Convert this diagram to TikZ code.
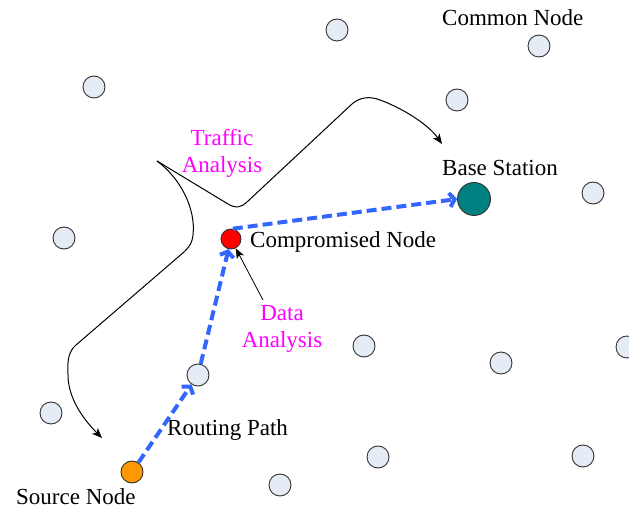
\documentclass[tikz,border=0pt]{standalone}
\usepackage{fontspec}
\setmainfont{Liberation Serif}
\usetikzlibrary{arrows.meta}
\definecolor{nodefill}{RGB}{230,236,246}
\definecolor{rimgray}{RGB}{51,51,51}
\definecolor{pathblue}{RGB}{51,102,255}
\definecolor{stationteal}{RGB}{0,128,128}
\definecolor{sourceorange}{RGB}{255,153,0}
\definecolor{hotmagenta}{RGB}{255,0,255}
\begin{document}
\begin{tikzpicture}[x=1pt,y=-1pt,
  sensor/.style={circle,draw=rimgray,line width=0.9pt,minimum size=22pt,inner sep=0pt,fill=nodefill},
  txt/.style={font=\fontsize{23}{27}\selectfont,inner sep=0pt},
  note/.style={txt,text=hotmagenta},
  route/.style={pathblue,line width=4pt,dash pattern=on 10pt off 5pt,
    -{Straight Barb[length=5pt,width=14pt]}},
  flow/.style={black,line width=1pt,-{Stealth[length=10pt,width=8pt,inset=2.5pt]}}]
\useasboundingbox (0,0) rectangle (629,510);
\clip (0,0) rectangle (629,510);

% ordinary sensor nodes
\node[sensor] (n1)  at (337,30)  {};
\node[sensor] (n2)  at (539,46)  {};
\node[sensor] (n3)  at (94,87)   {};
\node[sensor] (n4)  at (457,100) {};
\node[sensor] (n5)  at (593,193) {};
\node[sensor] (n6)  at (64,238)  {};
\node[sensor] (n7)  at (364,346) {};
\node[sensor] (n8)  at (501,363) {};
\node[sensor] (n9)  at (627,347) {};
\node[sensor] (n10) at (51,413)  {};
\node[sensor] (n11) at (378,457) {};
\node[sensor] (n12) at (583,456) {};
\node[sensor] (n13) at (280,485) {};
\node[sensor] (relay) at (198,375) {};

% special nodes
\node[sensor,fill=sourceorange] (src) at (132,472) {};
\node[sensor,fill=red,minimum size=20pt] (comp) at (231,239) {};
\node[sensor,fill=stationteal,minimum size=33pt] (bs) at (474,199) {};

% labels
\node[txt,anchor=base west] (lcommon) at (442,26) {Common Node};
\node[txt,anchor=base west] (lbs) at (442,176) {Base Station};
\node[txt,anchor=base west] (lcomp) at (250,248) {Compromised Node};
\node[txt,anchor=base west] (lroute) at (167,435) {Routing Path};
\node[txt,anchor=base west] (lsrc) at (16,504) {Source Node};
\node[note,anchor=base] (ltraf1) at (222,146) {Traffic};
\node[note,anchor=base] (ltraf2) at (222,173) {Analysis};
\node[note,anchor=base] (ldata1) at (282,321) {Data};
\node[note,anchor=base] (ldata2) at (282,348) {Analysis};

% routing path
\draw[route] (src) -- (relay);
\draw[route] (relay) -- (comp);
\draw[route] (comp.80) -- (bs.west);

% traffic analysis traces
\coordinate (fork) at (157,161);
\coordinate (tobs) at (442,144);
\coordinate (tosrc) at (102,438);
\draw[flow] (fork) -- (228,204) .. controls (236,209) and (242,207) .. (247,202)
  -- (352,104) .. controls (360,97) and (370,96) .. (380,100)
  .. controls (402,108) and (428,124) .. (tobs);
\draw[flow] (fork) .. controls (180,178) and (196,208) .. (193,235)
  .. controls (192,243) and (190,246) .. (184,252) -- (76,345)
  .. controls (69,351) and (67,360) .. (68,375)
  .. controls (68,400) and (86,422) .. (tosrc);

% data analysis pointer
\coordinate (dstart) at (263,300);
\draw[flow,line width=0.8pt] (dstart) -- (comp.-63);
\end{tikzpicture}
\end{document}
